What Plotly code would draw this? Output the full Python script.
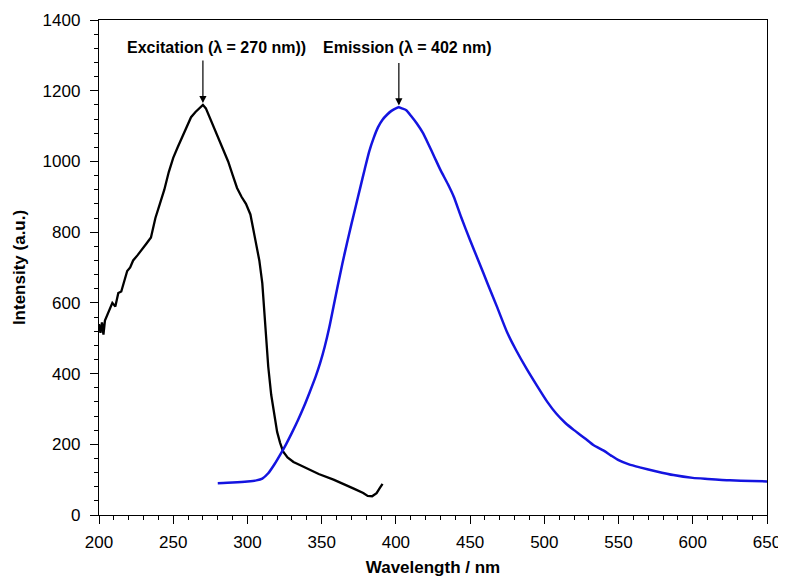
import plotly.graph_objects as go

# Excitation spectrum (black)
exc_x = [200, 201, 202, 203, 204, 205, 207, 209, 211, 213, 215, 217, 219, 221, 223, 226, 229, 232,
         235, 238, 241, 244, 247, 250, 253, 256, 259, 262, 265, 268, 270, 272, 275, 278, 281, 284,
         287, 290, 293, 296, 299, 302, 304, 306, 308, 310, 312, 314, 316, 318, 320, 322, 324, 327,
         331, 336, 342, 348, 358, 365, 372, 378, 381, 384, 387, 389, 391]
exc_y = [540, 515, 545, 510, 550, 560, 585, 600, 590, 628, 632, 665, 690, 700, 720, 735, 750, 768,
         785, 840, 880, 920, 970, 1010, 1040, 1070, 1100, 1125, 1140, 1152, 1160, 1150, 1120, 1092,
         1062, 1032, 1000, 962, 925, 900, 880, 850, 810, 765, 720, 656, 540, 420, 340, 280, 235,
         204, 180, 163, 150, 140, 128, 116, 100, 88, 74, 62, 54, 53, 62, 75, 88]

# Emission spectrum (blue)
em_x = [280, 290, 300, 306, 310, 314, 318, 322, 326, 330, 334, 338, 342, 346, 349, 352, 355, 358,
        361, 364, 367, 370, 373, 376, 379, 382, 385, 388, 391, 394, 397, 400, 402, 404, 407, 410,
        414, 418, 422, 426, 430, 435, 439, 444, 450, 456, 462, 468, 475, 481, 488, 495, 502, 508,
        514, 520, 527, 533, 540, 545, 550, 557, 565, 575, 587, 600, 610, 625, 640, 650]
em_y = [90, 92, 95, 98, 103, 118, 142, 170, 200, 233, 268, 306, 348, 392, 430, 475, 528, 590,
        652, 712, 768, 822, 874, 926, 978, 1028, 1066, 1097, 1118, 1132, 1143, 1150, 1153, 1150,
        1145, 1130, 1108, 1082, 1048, 1012, 976, 936, 900, 842, 777, 715, 652, 590, 516, 466, 414,
        366, 320, 287, 261, 240, 218, 198, 182, 168, 155, 143, 134, 124, 113, 105, 102, 98, 96, 95]

peak_labels = ["Excitation (λ = 270 nm))", "Emission (λ = 402 nm)"]
peak_x = [270, 402]
peak_y = [1165, 1158]
label_x = [279, 408]
label_y = 1322

FONT = "Arial, Liberation Sans, sans-serif"

fig = go.Figure()
fig.add_trace(go.Scatter(x=exc_x, y=exc_y, mode="lines",
                         line=dict(color="black", width=2.3), showlegend=False))
fig.add_trace(go.Scatter(x=em_x, y=em_y, mode="lines", line_shape="spline",
                         line=dict(color="#1414e0", width=2.5, smoothing=0.6), showlegend=False))

# arrows
for px, py in zip(peak_x, peak_y):
    fig.add_annotation(x=px, y=py, xref="x", yref="y", text="", showarrow=True,
                       ax=0, ay=-44, arrowhead=2, arrowsize=1.2, arrowwidth=1.2,
                       arrowcolor="black")
# labels
for lx, txt in zip(label_x, peak_labels):
    fig.add_annotation(x=lx, y=label_y, xref="x", yref="y", text="<b>%s</b>" % txt,
                       showarrow=False, font=dict(family=FONT, size=16, color="black"))

axis_common = dict(showline=True, linecolor="black", linewidth=1.3, mirror=True,
                   ticks="outside", ticklen=8, tickwidth=1.3, tickcolor="black",
                   showgrid=False, zeroline=False, automargin=False,
                   tickfont=dict(family=FONT, size=17, color="black"))

fig.update_xaxes(range=[200, 650], dtick=50, tick0=200,
                 title=dict(text="<b>Wavelength / nm</b>",
                            font=dict(family=FONT, size=17, color="black"), standoff=10),
                 minor=dict(ticks="outside", ticklen=4, dtick=10, tickcolor="black", tickwidth=1.2),
                 ticklabelstandoff=3, **axis_common)
fig.update_yaxes(range=[0, 1400], dtick=200, tick0=0,
                 title=dict(text="<b>Intensity (a.u.)</b>",
                            font=dict(family=FONT, size=17, color="black"), standoff=12),
                 minor=dict(ticks="outside", ticklen=4, dtick=40, tickcolor="black", tickwidth=1.2),
                 ticklabelstandoff=6, **axis_common)

fig.update_layout(width=778, height=578,
                  margin=dict(l=91, r=19, t=12, b=71),
                  plot_bgcolor="white", paper_bgcolor="white")

fig.write_html("out.html")
